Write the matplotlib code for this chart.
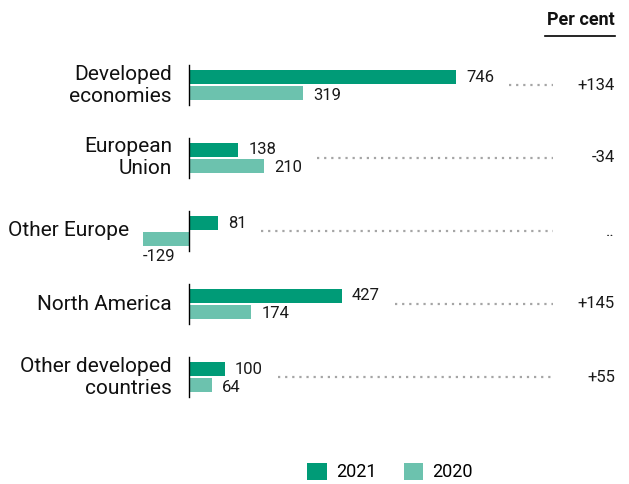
import matplotlib
matplotlib.use("Agg")
import matplotlib.pyplot as plt
from matplotlib.patches import Patch
from matplotlib.lines import Line2D

plt.rcParams['font.family'] = ['Roboto', 'DejaVu Sans']

categories = ['Developed\neconomies', 'European\nUnion', 'Other Europe',
              'North America', 'Other developed\ncountries']
values_2021 = [746, 138, 81, 427, 100]
values_2020 = [319, 210, -129, 174, 64]
pct_change = ['+134', '-34', '..', '+145', '+55']
series_names = ['2021', '2020']

c2021 = '#009B77'
c2020 = '#6CC2AE'

W, H = 629, 484
fig = plt.figure(figsize=(W / 100, H / 100), dpi=100)
ax = fig.add_axes([0, 0, 1, 1])

# value axis: zero sits at 189 px, 746 reaches 456 px
px_per_unit = (456 - 189) / 746
ax.set_xlim(-189 / px_per_unit, (W - 189) / px_per_unit)
# groups are 73 px apart, first centred at 85 px
gap = 73
ax.set_ylim((H - 85) / gap, -85 / gap)
ax.axis('off')

off = 8 / gap
bh = 14 / gap
u = 1 / px_per_unit  # one pixel in value units

value_texts = []
for i, (v1, v0) in enumerate(zip(values_2021, values_2020)):
    ax.barh(i - off, v1, height=bh, color=c2021)
    ax.barh(i + off, v0, height=bh, color=c2020)
    ax.plot([0, 0], [i - 20 / gap, i + 20 / gap], color='black', lw=1)
    t1 = ax.text(v1 + 10 * u, i - off, f'{v1}', ha='left', va='center',
                 fontsize=12, color='#1a1a1a')
    if v0 < 0:
        t0 = ax.text(v0, i + off + 10 / gap, f'{v0}', ha='left', va='top',
                     fontsize=12, color='#1a1a1a')
    else:
        t0 = ax.text(v0 + 10 * u, i + off + 2 / gap, f'{v0}', ha='left', va='center',
                     fontsize=12, color='#1a1a1a')
    value_texts.append((t1, t0))
    # category name sits left of the leftmost bar
    left = min(0, v1, v0)
    pad = 17 if left == 0 else 14
    ax.text(left - pad * u, i, categories[i], ha='right', va='center', fontsize=15,
            color='#111111', linespacing=1.2)
    ax.text((615 - 189) * u, i, pct_change[i], ha='right', va='center',
            fontsize=12, color='#1a1a1a')

# dotted leader lines from the labels to the percentage column
fig.canvas.draw()
renderer = fig.canvas.get_renderer()
inv = ax.transData.inverted()
for i, (t1, t0) in enumerate(value_texts):
    right = max(t1.get_window_extent(renderer).x1, t0.get_window_extent(renderer).x1)
    x_start = inv.transform((right + 15, 0))[0]
    x_end = (553 - 189) * u
    ax.plot([x_start, x_end], [i, i], color='#a5a5a5', lw=1.6,
            linestyle=(0, (1, 2.2)))

# header
fig.text(615 / W, 1 - 20 / H, 'Per cent', ha='right', va='center',
         fontsize=13, fontweight='bold', color='#111111')
fig.add_artist(Line2D([545 / W, 615 / W], [1 - 36 / H, 1 - 36 / H],
                      color='black', lw=1.2))

handles = [Patch(facecolor=c2021, edgecolor='none'),
           Patch(facecolor=c2020, edgecolor='none')]
fig.legend(handles, series_names, loc='center', bbox_to_anchor=(390 / W, 1 - 472 / H),
           ncol=2, frameon=False, fontsize=13, handlelength=1.1, handleheight=1.1,
           columnspacing=1.5, handletextpad=0.5)

fig.savefig('out.png', dpi=100)
